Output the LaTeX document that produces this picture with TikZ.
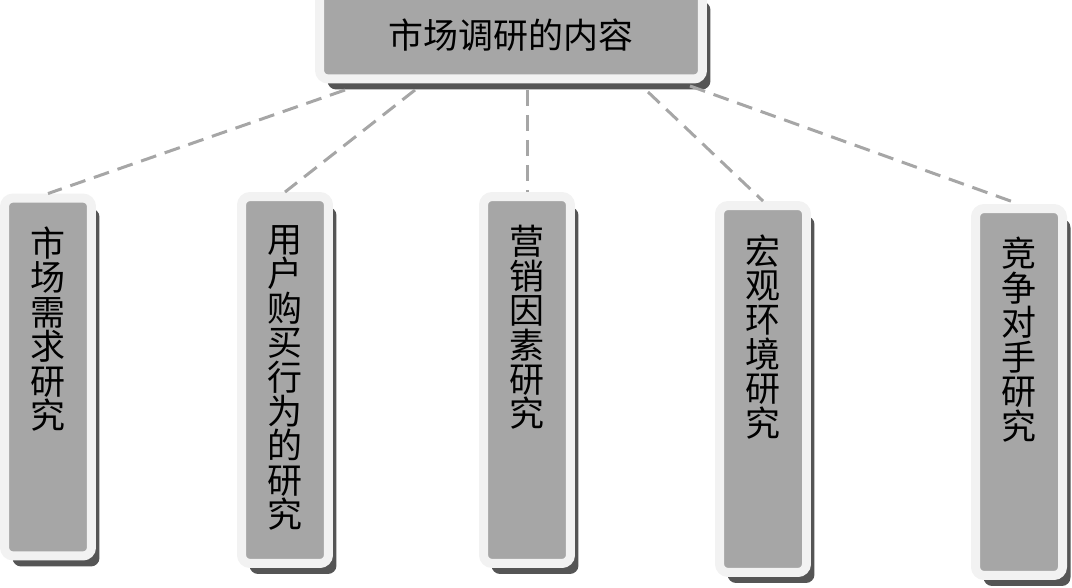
\documentclass[tikz,border=0pt]{standalone}
\usepackage{fontspec}
\newfontfamily\cjk{Noto Sans CJK SC}
\usetikzlibrary{positioning,shadows}
\definecolor{boxgray}{HTML}{A6A6A6}
\definecolor{rimgray}{HTML}{F2F2F2}
\definecolor{shadegray}{HTML}{555555}
\definecolor{linkgray}{HTML}{A6A6A6}
\tikzset{
  panel/.style={fill=boxgray, draw=rimgray, line width=0.18cm, rounded corners=0.17cm,
    drop shadow={shadow xshift=0.16cm, shadow yshift=-0.21cm, fill=shadegray, opacity=1}},
  topic/.style={panel, minimum width=7.66cm, minimum height=1.76cm, inner sep=0pt,
    font=\cjk\fontsize{19.9pt}{19.6pt}\selectfont},
  item/.style={panel, minimum width=1.74cm, minimum height=7.34cm, inner sep=0pt},
  vtext/.style={align=center, inner sep=0pt, font=\cjk\fontsize{19.9pt}{19.6pt}\selectfont},
  link/.style={draw=linkgray, line width=0.06cm, dash pattern=on 0.32cm off 0.18cm}
}
\begin{document}
\begin{tikzpicture}[x=0.02cm, y=-0.02cm]
  \useasboundingbox (0,0) rectangle (1072,588);
  % boxes
  \node[topic] (top) at (511,35) {市场调研的内容};
  \node[item, minimum height=7.16cm] (b1) at (48,377) {};
  \node[item] (b2) at (285,380) {};
  \node[item] (b3) at (527,380) {};
  \node[item] (b4) at (763,389) {};
  \node[item] (b5) at (1019,392) {};
  % vertical labels
  \node[vtext, below=0.66cm of b1.north] (t1) {市\\场\\需\\求\\研\\究};
  \node[vtext, below=0.66cm of b2.north] (t2) {用\\户\\购\\买\\行\\为\\的\\研\\究};
  \node[vtext, below=0.66cm of b3.north] (t3) {营\\销\\因\\素\\研\\究};
  \node[vtext, below=0.66cm of b4.north] (t4) {宏\\观\\环\\境\\研\\究};
  \node[vtext, below=0.66cm of b5.north] (t5) {竞\\争\\对\\手\\研\\究};
  % links
  \coordinate (s1) at (345,90);
  \coordinate (s2) at (415,90);
  \coordinate (s3) at (527,90);
  \coordinate (s4) at (648,92);
  \coordinate (s5) at (690,86);
  \draw[link] (s1) -- (b1.north);
  \draw[link] (s2) -- (b2.north);
  \draw[link] (s3) -- (b3.north);
  \draw[link] (s4) -- (b4.north);
  \draw[link] (s5) -- (b5.north);
\end{tikzpicture}
\end{document}
